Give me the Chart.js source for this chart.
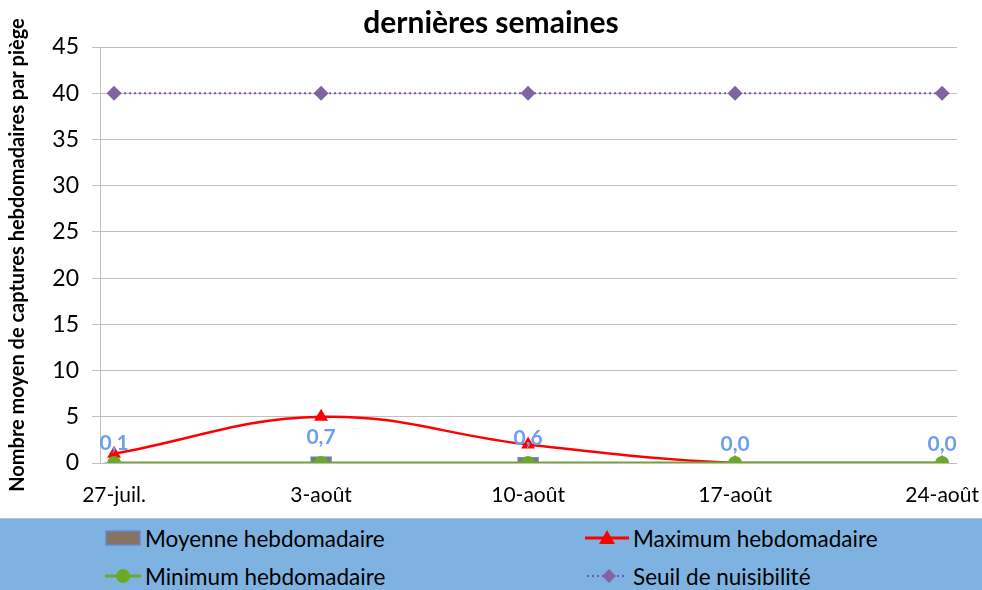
<!DOCTYPE html>
<html>
<head>
<meta charset="utf-8">
<script src="https://cdn.jsdelivr.net/npm/chart.js@4"></script>
<style>
  body { margin: 0; width: 982px; height: 590px; background: #fff; overflow: hidden; font-family: Lato, sans-serif; }
  #wrap { position: relative; width: 982px; height: 518px; }
  #legende { position: absolute; left: 0; top: 518px; width: 982px; height: 72px; background: #7EB3E1; border-top: 1px solid #A9CBEA; box-sizing: border-box; }
  .item { position: absolute; display: flex; align-items: center; font-size: 22.5px; color: #000; height: 26px; }
  .item svg { margin-right: 4px; }
</style>
</head>
<body>
<div id="wrap"><canvas id="graphe" width="982" height="518"></canvas></div>
<div id="legende">
  <div class="item" style="left:105px; top:6px;">
    <svg width="36" height="16"><rect x="1" y="1" width="34" height="14" fill="#857461" stroke="#6A86D8" stroke-width="1.5"/></svg>Moyenne hebdomadaire
  </div>
  <div class="item" style="left:585px; top:6px;">
    <svg width="44" height="20"><line x1="0" y1="10" x2="44" y2="10" stroke="#FF0000" stroke-width="3"/><polygon points="22,2 30,16 14,16" fill="#FF0000"/></svg>Maximum hebdomadaire
  </div>
  <div class="item" style="left:105px; top:44px;">
    <svg width="36" height="20"><line x1="0" y1="10" x2="36" y2="10" stroke="#6AAA26" stroke-width="3"/><circle cx="18" cy="10" r="7" fill="#6AAA26"/></svg>Minimum hebdomadaire
  </div>
  <div class="item" style="left:585px; top:44px;">
    <svg width="44" height="20"><line x1="2" y1="10" x2="42" y2="10" stroke="#7F4FB0" stroke-width="2" stroke-dasharray="2,3"/><polygon points="24,3 31,10 24,17 17,10" fill="#8064A2"/></svg>Seuil de nuisibilité
  </div>
</div>
<script>
// semaines
var semaines = ['27-juil.', '3-août', '10-août', '17-août', '24-août'];
// valeurs
var moyenne = [0.1, 0.7, 0.6, 0.0, 0.0];
var maximum = [1, 5, 2, 0, 0];
var minimum = [0, 0, 0, 0, 0];
var seuil = [40, 40, 40, 40, 40];
var ticksY = [0, 5, 10, 15, 20, 25, 30, 35, 40, 45];

function points(vals) {
    return vals.map(function (v, i) { return { x: i, y: v }; });
}

// étiquettes des moyennes au-dessus des barres
var etiquettes = {
    id: 'etiquettes',
    afterDatasetsDraw: function (chart) {
        var ctx = chart.ctx;
        var meta = chart.getDatasetMeta(3);
        ctx.save();
        ctx.font = 'bold 21px Lato';
        ctx.fillStyle = '#6E9EEE';
        ctx.textAlign = 'center';
        ctx.textBaseline = 'middle';
        meta.data.forEach(function (bar, i) {
            ctx.fillText(moyenne[i].toFixed(1).replace('.', ','), bar.x, bar.y - 19);
        });
        ctx.restore();
    }
};

document.addEventListener('DOMContentLoaded', function () {
    var ctx = document.getElementById('graphe').getContext('2d');
    new Chart(ctx, {
        data: {
            datasets: [
                {
                    type: 'line', label: 'Seuil de nuisibilité', data: points(seuil), order: 4,
                    borderColor: '#7F4FB0', borderWidth: 2, borderDash: [2, 3],
                    pointStyle: 'rectRot', pointRadius: 7.5, pointBackgroundColor: '#8064A2', pointBorderColor: '#8064A2', pointBorderWidth: 0
                },
                {
                    type: 'line', label: 'Maximum hebdomadaire', data: points(maximum), order: 2,
                    borderColor: '#FF0000', borderWidth: 2.5, tension: 0.4,
                    pointStyle: 'triangle', pointRadius: 8, pointBackgroundColor: '#FF0000', pointBorderColor: '#FF0000', pointBorderWidth: 0
                },
                {
                    type: 'line', label: 'Minimum hebdomadaire', data: points(minimum), order: 1,
                    borderColor: '#6AAA26', borderWidth: 3,
                    pointStyle: 'circle', pointRadius: 7, pointBackgroundColor: '#6AAA26', pointBorderColor: '#6AAA26', pointBorderWidth: 0
                },
                {
                    type: 'bar', label: 'Moyenne hebdomadaire', data: points(moyenne), order: 3,
                    backgroundColor: '#857461', borderColor: '#6A86D8', borderWidth: 1.5, barThickness: 21
                }
            ]
        },
        options: {
            responsive: false,
            animation: false,
            layout: { padding: 0 },
            plugins: {
                legend: { display: false },
                tooltip: { enabled: false },
                title: {
                    display: true,
                    text: 'dernières semaines',
                    color: '#000',
                    font: { family: 'Lato', size: 30, weight: 'bold' },
                    padding: { top: 5, bottom: 6 }
                }
            },
            scales: {
                x: {
                    type: 'linear', min: -0.068, max: 4.072, offset: false,
                    afterBuildTicks: function (s) { s.ticks = semaines.map(function (c, i) { return { value: i }; }); },
                    afterFit: function (s) { s.height = 55; s.paddingLeft = 0; s.paddingRight = 25; },
                    grid: { display: false },
                    border: { display: false },
                    ticks: {
                        color: '#000', font: { family: 'Lato', size: 21 }, padding: 12, maxRotation: 0, autoSkip: false,
                        callback: function (v) { return semaines[v]; }
                    }
                },
                y: {
                    min: 0, max: 45,
                    afterBuildTicks: function (s) { s.ticks = ticksY.map(function (v) { return { value: v }; }); },
                    afterFit: function (s) { s.width = 100; },
                    grid: { color: '#BFBFBF', lineWidth: 1, tickLength: 8 },
                    border: { color: '#BFBFBF' },
                    ticks: { color: '#000', font: { family: 'Lato', size: 23 }, padding: 13 },
                    title: {
                        display: true, text: 'Nombre moyen de captures hebdomadaires par piège',
                        color: '#000', font: { family: 'Lato', size: 20, weight: 'bold' }, padding: { top: 6, bottom: 0 }
                    }
                }
            }
        },
        plugins: [etiquettes]
    });
});
</script>
</body>
</html>
